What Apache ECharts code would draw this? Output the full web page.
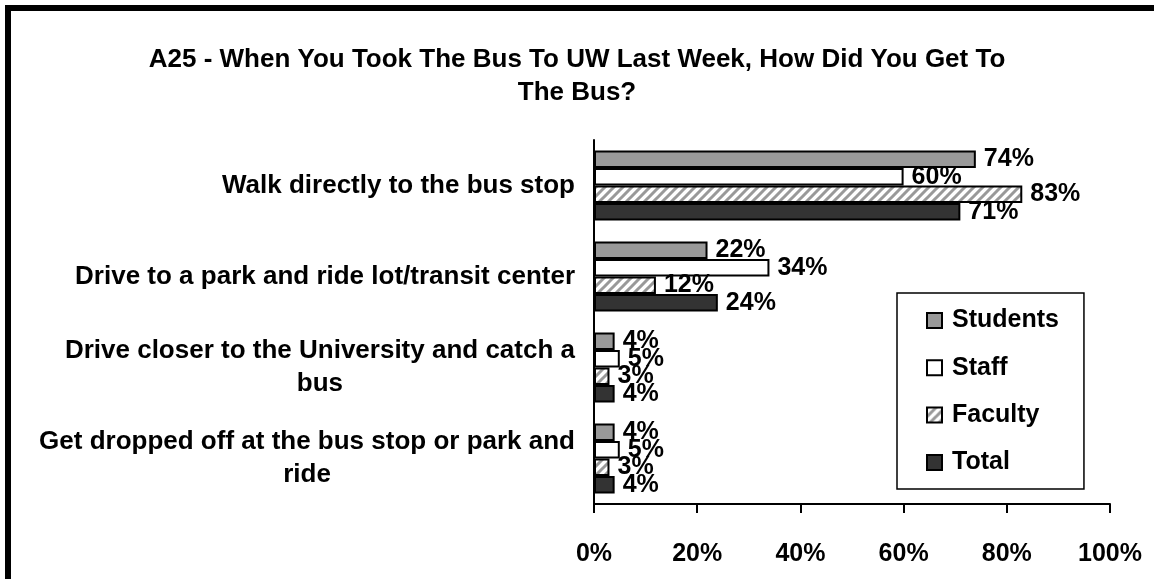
<!DOCTYPE html>
<html>
<head>
<meta charset="utf-8">
<script src="https://cdn.jsdelivr.net/npm/echarts@6/dist/echarts.min.js"></script>
<style>
  html, body { margin: 0; padding: 0; background: #fff; }
  #chart { width: 1154px; height: 579px; }
</style>
</head>
<body>
<div id="chart"></div>
<script>
  const titleText = 'A25 - When You Took The Bus To UW Last Week, How Did You Get To\nThe Bus?';
  const categories = [
    'Walk directly to the bus stop',
    'Drive to a park and ride lot/transit center',
    'Drive closer to the University and catch a\nbus',
    'Get dropped off at the bus stop or park and\nride',
  ];
  const seriesNames = ['Students', 'Staff', 'Faculty', 'Total'];
  const students = [74, 22, 4, 4];
  const staff = [60, 34, 5, 5];
  const faculty = [83, 12, 3, 3];
  const total = [71, 24, 4, 4];

  const FONT = '"Liberation Sans", Arial, sans-serif';

  // hatched fill for faculty
  function hatch() {
    const c = document.createElement('canvas');
    c.width = 9;
    c.height = 9;
    const g = c.getContext('2d');
    g.fillStyle = '#fff';
    g.fillRect(0, 0, 9, 9);
    g.strokeStyle = '#999';
    g.lineWidth = 3;
    g.beginPath();
    g.moveTo(-3, 12); g.lineTo(12, -3);
    g.moveTo(-12, 12); g.lineTo(3, -3);
    g.moveTo(6, 12); g.lineTo(21, -3);
    g.stroke();
    return c;
  }

  const label = {
    show: true,
    position: 'right',
    distance: 8,
    formatter: '{c}%',
    color: '#000',
    fontFamily: FONT,
    fontWeight: 'bold',
    fontSize: 25,
  };

  function bar(name, data, color) {
    return {
      name: name,
      type: 'bar',
      data: data,
      barGap: '0%',
      barCategoryGap: '23%',
      itemStyle: { color: color, borderColor: '#000', borderWidth: 2 },
      label: label,
    };
  }

  const chart = echarts.init(document.getElementById('chart'));
  chart.setOption({
    animation: false,
    backgroundColor: '#fff',
    title: {
      text: titleText,
      left: 'center',
      top: 38,
      textStyle: {
        fontFamily: FONT,
        fontWeight: 'bold',
        fontSize: 26,
        lineHeight: 33,
        color: '#000',
      },
    },
    grid: { left: 594, right: 44, top: 140, bottom: 75 },
    legend: {
      orient: 'vertical',
      left: 897,
      top: 293,
      padding: [15, 25, 14, 29],
      itemWidth: 15,
      itemHeight: 15,
      itemGap: 22.3,
      borderColor: '#000',
      borderWidth: 1.5,
      icon: 'rect',
      textStyle: {
        fontFamily: FONT,
        fontWeight: 'bold',
        fontSize: 25,
        color: '#000',
        padding: [0, 0, 0, 5],
      },
      data: seriesNames,
    },
    xAxis: {
      type: 'value',
      min: 0,
      max: 100,
      interval: 20,
      axisLine: { show: true, lineStyle: { color: '#000', width: 2 } },
      axisTick: { show: true, length: 9, lineStyle: { color: '#000', width: 2 } },
      splitLine: { show: false },
      axisLabel: {
        formatter: '{value}%',
        margin: 38,
        color: '#000',
        fontFamily: FONT,
        fontWeight: 'bold',
        fontSize: 25,
      },
    },
    yAxis: {
      type: 'category',
      inverse: true,
      data: categories,
      axisLine: { show: true, lineStyle: { color: '#000', width: 2 } },
      axisTick: { show: false },
      axisLabel: {
        margin: 19,
        color: '#000',
        fontFamily: FONT,
        fontWeight: 'bold',
        fontSize: 26,
        lineHeight: 33,
        formatter: function (v) {
          const parts = v.split('\n');
          if (parts.length === 1) return '{a|' + v + '}';
          return '{a|' + parts[0] + '}\n{b|' + parts[1] + '}';
        },
        rich: {
          a: { fontFamily: FONT, fontWeight: 'bold', fontSize: 26, lineHeight: 33, color: '#000' },
          b: { fontFamily: FONT, fontWeight: 'bold', fontSize: 26, lineHeight: 33, color: '#000', align: 'center' },
        },
      },
    },
    graphic: [
      { type: 'rect', shape: { x: 5, y: 5, width: 6, height: 574 }, style: { fill: '#000' } },
      { type: 'rect', shape: { x: 5, y: 5, width: 1149, height: 6 }, style: { fill: '#000' } },
    ],
    series: [
      bar('Students', students, '#999999'),
      bar('Staff', staff, '#ffffff'),
      bar('Faculty', faculty, { image: hatch(), repeat: 'repeat' }),
      bar('Total', total, '#333333'),
    ],
  });
</script>
</body>
</html>
